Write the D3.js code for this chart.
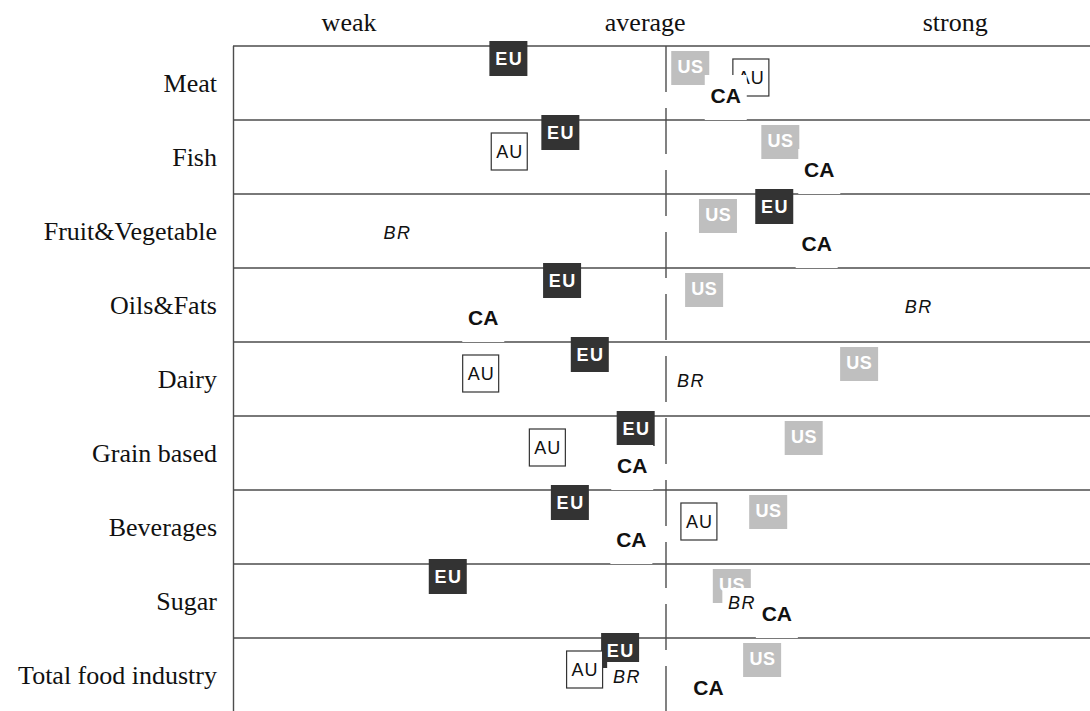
<!DOCTYPE html>
<html>
<head>
<meta charset="utf-8">
<script src="https://cdn.jsdelivr.net/npm/d3@7"></script>
<style>
  body { margin: 0; background: #fff; }
  svg { display: block; }
</style>
</head>
<body>
<svg id="chart" width="1090" height="711"></svg>
<script>
const categories = ["Meat", "Fish", "Fruit&Vegetable", "Oils&Fats", "Dairy",
    "Grain based", "Beverages", "Sugar", "Total food industry"];
const headerLabels = ["weak", "average", "strong"];
const headerValues = [13.4, 47.6, 83.4];
const averageValue = 50;

// competitiveness score (0 = weakest, 100 = strongest), null = not rated
const EU = [31.8, 37.8, 62.5, 38.0, 41.2, 46.5, 38.9, 24.8, 44.7];
const US = [52.8, 63.2, 56.0, 54.4, 72.3, 65.9, 61.8, 57.6, 61.1];
const AU = [59.8, 31.9, null, null, 28.6, 36.3, 53.8, null, 40.6];
const BR = [null, null, 18.9, 79.1, 52.8, null, null, 58.7, 45.4];
const CA = [56.9, 67.7, 67.4, 28.9, null, 46.1, 46.0, 62.8, 54.9];

const svg = d3.select("#chart");
const sans = "'Liberation Sans', Arial, sans-serif";
const serif = "'Liberation Serif', 'Times New Roman', serif";

const x = d3.scaleLinear().domain([0, 100]).range([233, 1099]);
const y = d3.scaleBand().domain(categories).range([46, 712]);
const bw = y.bandwidth();

// header
svg.selectAll(".head")
    .data(headerLabels)
    .join("text")
    .attr("class", "head")
    .attr("x", (d, i) => x(headerValues[i]))
    .attr("y", 31)
    .attr("text-anchor", "middle")
    .style("font-family", serif)
    .style("font-size", "26px")
    .attr("fill", "#111")
    .text(d => d);

// row labels
svg.selectAll(".cat")
    .data(categories)
    .join("text")
    .attr("class", "cat")
    .attr("x", 217)
    .attr("y", d => y(d) + bw / 2 + 9)
    .attr("text-anchor", "end")
    .style("font-family", serif)
    .style("font-size", "26px")
    .attr("fill", "#111")
    .text(d => d);

// grid
svg.selectAll(".row")
    .data(categories)
    .join("line")
    .attr("class", "row")
    .attr("x1", 233)
    .attr("x2", 1090)
    .attr("y1", d => y(d))
    .attr("y2", d => y(d))
    .attr("stroke", "#4d4d4d")
    .attr("stroke-width", 1.4);

svg.append("line")
    .attr("x1", 233.5).attr("x2", 233.5)
    .attr("y1", y.range()[0]).attr("y2", 711)
    .attr("stroke", "#4d4d4d")
    .attr("stroke-width", 1.4);

svg.append("line")
    .attr("x1", x(averageValue)).attr("x2", x(averageValue))
    .attr("y1", y.range()[0]).attr("y2", 711)
    .attr("stroke", "#4d4d4d")
    .attr("stroke-width", 1.4)
    .attr("stroke-dasharray", "46,16");

function pairs(values) {
    return categories.map((c, i) => ({ cat: c, v: values[i] })).filter(d => d.v !== null);
}

function boxMarker(name, values, opt) {
    const g = svg.append("g").selectAll("g")
        .data(pairs(values))
        .join("g")
        .attr("transform", d => `translate(${x(d.v)},${y(d.cat) + opt.top})`);
    g.append("rect")
        .attr("x", -opt.w / 2)
        .attr("y", 0)
        .attr("width", opt.w)
        .attr("height", opt.h)
        .attr("fill", opt.fill)
        .attr("stroke", opt.stroke || "none")
        .attr("stroke-width", 1.2);
    g.append("text")
        .attr("x", 0)
        .attr("dx", opt.ls / 2)
        .attr("y", opt.base)
        .attr("text-anchor", "middle")
        .style("font-family", sans)
        .style("font-size", "18px")
        .style("font-weight", opt.weight)
        .style("letter-spacing", opt.ls + "px")
        .attr("fill", opt.color)
        .text(name);
}

function textMarker(name, values, opt) {
    const g = svg.append("g").selectAll("g")
        .data(pairs(values))
        .join("g")
        .attr("transform", d => `translate(${x(d.v)},${y(d.cat) + opt.base})`);
    g.append("rect")
        .attr("x", -opt.halfW)
        .attr("y", -opt.up)
        .attr("width", opt.halfW * 2)
        .attr("height", opt.up + opt.down)
        .attr("fill", "#fff");
    g.append("text")
        .attr("x", 0)
        .attr("dx", opt.ls / 2)
        .attr("y", 0)
        .attr("text-anchor", "middle")
        .style("font-family", sans)
        .style("font-size", opt.size)
        .style("font-weight", opt.weight)
        .style("font-style", opt.style)
        .style("letter-spacing", opt.ls + "px")
        .attr("fill", "#111")
        .text(name);
}

boxMarker("EU", EU, { w: 38, h: 35, top: -5, base: 23.5, fill: "#333333", color: "#fff", weight: "bold", ls: 1.5 });
boxMarker("US", US, { w: 38, h: 34, top: 5, base: 21.5, fill: "#bfbfbf", color: "#fff", weight: "bold", ls: 0.5 });
boxMarker("AU", AU, { w: 36, h: 37, top: 13, base: 24.5, fill: "#fff", stroke: "#333", color: "#111", weight: "normal", ls: 1 });
textMarker("BR", BR, { base: 45, halfW: 19, up: 21, down: 6, size: "18px", weight: "normal", style: "italic", ls: 1.5 });
textMarker("CA", CA, { base: 57, halfW: 21, up: 28, down: bw - 57, size: "21px", weight: "bold", style: "normal", ls: 0 });
</script>
</body>
</html>
